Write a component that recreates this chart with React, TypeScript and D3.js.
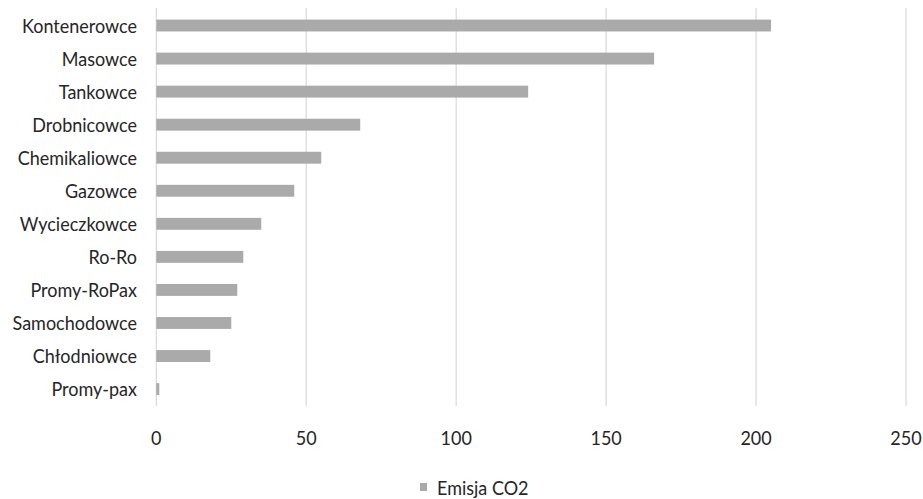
import React from "react";
import * as d3 from "d3";

const categories = [
  "Kontenerowce",
  "Masowce",
  "Tankowce",
  "Drobnicowce",
  "Chemikaliowce",
  "Gazowce",
  "Wycieczkowce",
  "Ro-Ro",
  "Promy-RoPax",
  "Samochodowce",
  "Chłodniowce",
  "Promy-pax",
];
const values = [205, 166, 124, 68, 55, 46, 35, 29, 27, 25, 18, 1];
const ticks = [0, 50, 100, 150, 200, 250];
const seriesName = "Emisja CO2";

const W = 923;
const H = 499;
const FONT = "Lato, 'Open Sans', sans-serif";
const TEXT_COLOR = "#262626";
const BAR_COLOR = "#aaaaaa";
const GRID_COLOR = "#d9d9d9";
const SX = 0.9;
const FS = 20;

export default function App() {
  const x = d3.scaleLinear().domain([0, 250]).range([156.3, 906]);
  const y = d3
    .scaleBand<string>()
    .domain(categories)
    .range([9, 405.6])
    .paddingInner(0.64)
    .paddingOuter(0.32);

  return (
    <svg
      width={W}
      height={H}
      style={{ position: "absolute", left: 0, top: 0, background: "#fff" }}
    >
      {ticks.map((t) => (
        <line
          key={"g" + t}
          x1={x(t)}
          x2={x(t)}
          y1={8}
          y2={406}
          stroke={GRID_COLOR}
          strokeWidth={1.2}
        />
      ))}
      {categories.map((c, i) => (
        <rect
          key={c}
          x={x(0)}
          y={y(c)!}
          width={x(values[i]) - x(0)}
          height={y.bandwidth()}
          fill={BAR_COLOR}
        />
      ))}
      {categories.map((c) => (
        <g
          key={"l" + c}
          transform={`translate(137,${y(c)! + y.bandwidth() / 2 + 7.3}) scale(${SX},1)`}
        >
          <text
            x={0}
            y={0}
            textAnchor="end"
            fontFamily={FONT}
            fontSize={FS}
            fill={TEXT_COLOR}
          >
            {c}
          </text>
        </g>
      ))}
      {ticks.map((t) => (
        <g key={"t" + t} transform={`translate(${x(t)},444.5) scale(${SX},1)`}>
          <text
            x={0}
            y={0}
            textAnchor="middle"
            fontFamily={FONT}
            fontSize={FS}
            fill={TEXT_COLOR}
          >
            {t}
          </text>
        </g>
      ))}
      <rect x={420} y={483} width={7} height={8} fill={BAR_COLOR} />
      <g transform={`translate(437,494.5) scale(${SX},1)`}>
        <text x={0} y={0} fontFamily={FONT} fontSize={FS} fill={TEXT_COLOR}>
          {seriesName}
        </text>
      </g>
    </svg>
  );
}
